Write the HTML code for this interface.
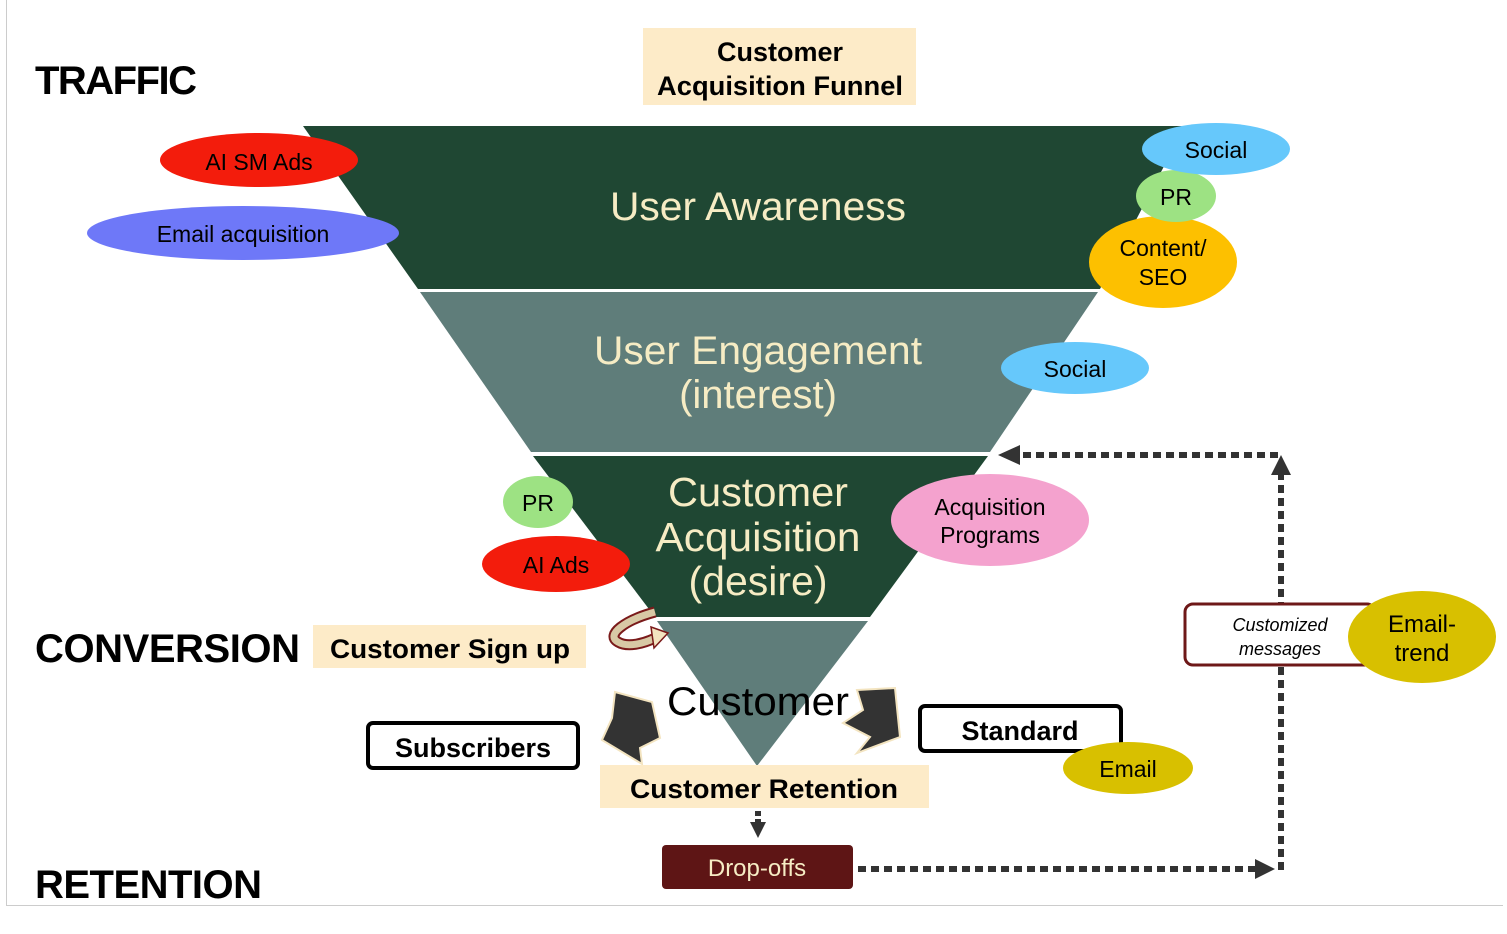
<!DOCTYPE html>
<html><head><meta charset="utf-8"><style>
body{margin:0;background:#fff;width:1507px;height:929px;overflow:hidden}
svg text{font-family:"Liberation Sans",Arial,sans-serif}
</style></head><body>
<svg width="1507" height="929" viewBox="0 0 1507 929" xmlns="http://www.w3.org/2000/svg">
<line x1="6.5" y1="0" x2="6.5" y2="905" stroke="#ccc"/>
<line x1="6" y1="905.5" x2="1503" y2="905.5" stroke="#ccc"/>
<!-- funnel -->
<polygon points="303,126 1185,126 1100,289 418,289" fill="#1f4733"/>
<polygon points="420,292 1098,292 990,452 531,452" fill="#5f7d7a"/>
<polygon points="533,456 988,456 870,617 655,617" fill="#1f4733"/>
<polygon points="657,621 868,621 757,766" fill="#5f7d7a"/>
<g fill="#f6ecc4" text-anchor="middle">
<text x="758" y="220" font-size="40" textLength="296" lengthAdjust="spacingAndGlyphs">User Awareness</text>
<text x="758" y="364" font-size="40" textLength="328" lengthAdjust="spacingAndGlyphs">User Engagement</text>
<text x="758" y="408" font-size="40">(interest)</text>
<text x="758" y="506" font-size="41" textLength="180" lengthAdjust="spacingAndGlyphs">Customer</text>
<text x="758" y="551" font-size="41" textLength="205" lengthAdjust="spacingAndGlyphs">Acquisition</text>
<text x="758" y="595" font-size="41">(desire)</text>
</g>
<!-- labels -->
<g font-weight="bold" font-size="40" fill="#000">
<text x="35" y="94" textLength="162">TRAFFIC</text>
<text x="35" y="662" textLength="265">CONVERSION</text>
<text x="35" y="898" textLength="227">RETENTION</text>
</g>
<rect x="643" y="28" width="273" height="77" fill="#fdebc8"/>
<text x="780" y="61" font-size="27" font-weight="bold" text-anchor="middle">Customer</text>
<text x="780" y="95" font-size="27" font-weight="bold" text-anchor="middle" textLength="246" lengthAdjust="spacingAndGlyphs">Acquisition Funnel</text>
<rect x="313" y="625" width="273" height="43" fill="#fdebc8"/>
<text x="450" y="658" font-size="27" font-weight="bold" text-anchor="middle" textLength="240" lengthAdjust="spacingAndGlyphs">Customer Sign up</text>
<!-- ellipses left -->
<ellipse cx="259" cy="160" rx="99" ry="27" fill="#f31c0c"/>
<text x="259" y="170" font-size="23" text-anchor="middle">AI SM Ads</text>
<ellipse cx="243" cy="233" rx="156" ry="27" fill="#6e78f8"/>
<text x="243" y="242" font-size="23" text-anchor="middle">Email acquisition</text>
<!-- right top -->
<ellipse cx="1163" cy="262" rx="74" ry="46" fill="#fdc000"/>
<text x="1163" y="256" font-size="23" text-anchor="middle">Content/</text>
<text x="1163" y="285" font-size="23" text-anchor="middle">SEO</text>
<ellipse cx="1176" cy="196" rx="40" ry="26" fill="#9de283"/>
<text x="1176" y="205" font-size="23" text-anchor="middle">PR</text>
<ellipse cx="1216" cy="149" rx="74" ry="26" fill="#66c8fb"/>
<text x="1216" y="158" font-size="23" text-anchor="middle">Social</text>
<ellipse cx="1075" cy="368" rx="74" ry="26" fill="#66c8fb"/>
<text x="1075" y="377" font-size="23" text-anchor="middle">Social</text>
<ellipse cx="538" cy="502" rx="35" ry="26" fill="#9de283"/>
<text x="538" y="511" font-size="23" text-anchor="middle">PR</text>
<ellipse cx="556" cy="564" rx="74" ry="28" fill="#f31c0c"/>
<text x="556" y="573" font-size="23" text-anchor="middle">AI Ads</text>
<ellipse cx="990" cy="520" rx="99" ry="46" fill="#f4a2ce"/>
<text x="990" y="515" font-size="23" text-anchor="middle">Acquisition</text>
<text x="990" y="543" font-size="23" text-anchor="middle">Programs</text>
<!-- curved arrow -->
<path d="M655,612 C625,620 605,635 618,642 C628,648 645,643 655,638" fill="none" stroke="#7a1a1a" stroke-width="11"/>
<path d="M655,612 C625,620 605,635 618,642 C628,648 645,643 655,638" fill="none" stroke="#d8c9a5" stroke-width="7"/>
<polygon points="651,627 668,633 654,648" fill="#f3e4c0" stroke="#7a1a1a" stroke-width="1.5"/>
<!-- big arrows -->
<polygon points="615,692 652,702 660,738 640,748 642,764 602,740 612,718" fill="#333" stroke="#f3e4c0" stroke-width="2"/>
<polygon points="857,690 895,688 900,737 857,753 870,737 843,723 863,710" fill="#333" stroke="#f3e4c0" stroke-width="2"/>
<text x="758" y="715" font-size="40" text-anchor="middle" textLength="182" lengthAdjust="spacingAndGlyphs">Customer</text>
<rect x="600" y="765" width="329" height="43" fill="#fdebc8"/>
<text x="764" y="798" font-size="27" font-weight="bold" text-anchor="middle" textLength="268" lengthAdjust="spacingAndGlyphs">Customer Retention</text>
<rect x="368" y="723" width="210" height="45" rx="5" fill="#fff" stroke="#000" stroke-width="4"/>
<text x="473" y="757" font-size="27" font-weight="bold" text-anchor="middle">Subscribers</text>
<rect x="920" y="706" width="201" height="45" rx="5" fill="#fff" stroke="#000" stroke-width="4"/>
<text x="1020" y="740" font-size="27" font-weight="bold" text-anchor="middle">Standard</text>
<ellipse cx="1128" cy="768" rx="65" ry="26" fill="#d8c000"/>
<text x="1128" y="777" font-size="23" text-anchor="middle">Email</text>
<!-- drop-offs -->
<line x1="758" y1="811" x2="758" y2="828" stroke="#333" stroke-width="6" stroke-dasharray="5,3"/>
<polygon points="750,822 766,822 758,838" fill="#333"/>
<rect x="662" y="845" width="191" height="44" rx="4" fill="#5e1515"/>
<text x="757" y="876" font-size="24" fill="#f6ecc4" text-anchor="middle">Drop-offs</text>
<!-- dotted loop -->
<g stroke="#333" stroke-width="6" stroke-dasharray="8,5" fill="none">
<line x1="858" y1="869" x2="1258" y2="869"/>
<line x1="1281" y1="870" x2="1281" y2="475"/>
<line x1="1278" y1="455" x2="1018" y2="455"/>
</g>
<polygon points="1255,859 1275,869 1255,879" fill="#333"/>
<polygon points="1271,475 1281,455 1291,475" fill="#333"/>
<polygon points="1020,445 998,455 1020,465" fill="#333"/>
<rect x="1185" y="604" width="190" height="61" rx="8" fill="#fff" stroke="#6e1818" stroke-width="3"/>
<text x="1280" y="631" font-size="18" font-style="italic" text-anchor="middle">Customized</text>
<text x="1280" y="655" font-size="18" font-style="italic" text-anchor="middle">messages</text>
<ellipse cx="1422" cy="637" rx="74" ry="46" fill="#d8c000"/>
<text x="1422" y="632" font-size="24" text-anchor="middle">Email-</text>
<text x="1422" y="661" font-size="24" text-anchor="middle">trend</text>
</svg>
</body></html>
